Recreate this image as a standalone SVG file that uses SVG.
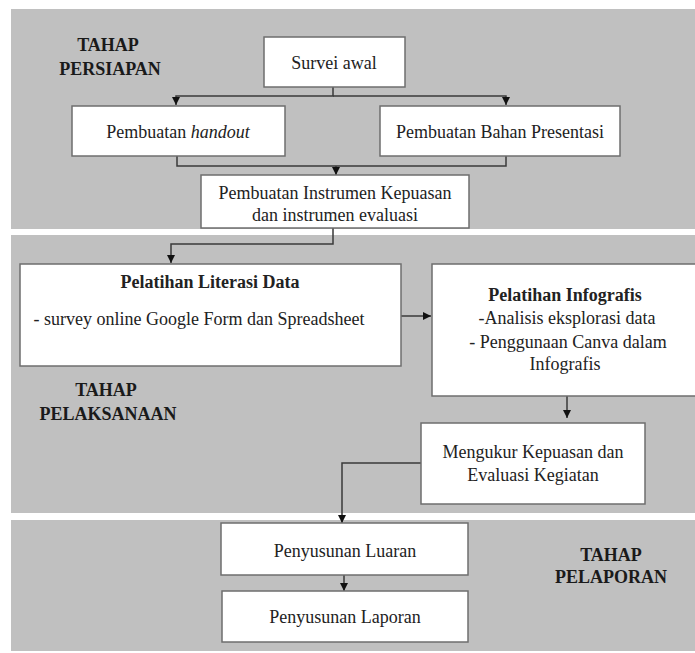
<svg xmlns="http://www.w3.org/2000/svg" width="695" height="653" viewBox="0 0 695 653">
<defs>
<style>
.band{fill:#c0c0c0;}
.box{fill:#ffffff;stroke:#6e6e6e;stroke-width:1.5;}
.t{font-family:"Liberation Serif","Times New Roman",serif;font-size:18px;fill:#222;text-anchor:middle;}
.b{font-weight:bold;}
.lbl{font-family:"Liberation Serif","Times New Roman",serif;font-size:18px;font-weight:bold;fill:#1a1a1a;text-anchor:middle;}
.c{fill:none;stroke:#3a3a3a;stroke-width:1.5;}
.a{marker-end:url(#arr);}
</style>
<marker id="arr" markerUnits="userSpaceOnUse" markerWidth="9" markerHeight="9" refX="8" refY="4" orient="auto">
<path d="M0,0 L8,4 L0,8 z" fill="#111"/>
</marker>
</defs>
<rect width="695" height="653" fill="#ffffff"/>
<g id="bands">
<rect class="band" x="11" y="9" width="684" height="220"/>
<rect class="band" x="11" y="235" width="684" height="278"/>
<rect class="band" x="11" y="520" width="684" height="131"/>
</g>
<g id="stage-labels">
<text class="lbl" x="108" y="51">TAHAP</text>
<text class="lbl" x="110" y="75">PERSIAPAN</text>
<text class="lbl" x="106" y="396">TAHAP</text>
<text class="lbl" x="108" y="420">PELAKSANAAN</text>
<text class="lbl" x="611" y="561">TAHAP</text>
<text class="lbl" x="611" y="583">PELAPORAN</text>
</g>
<g id="connectors">
<path class="c a" d="M333,87 V96 H176 V105"/>
<path class="c a" d="M333,96 H506 V105"/>
<path class="c" d="M177,156 V166 H506 V156"/>
<path class="c a" d="M336,166 V175"/>
<path class="c a" d="M333,228 V244 H171 V263"/>
<path class="c a" d="M401,316 H431"/>
<path class="c a" d="M567,396 V418"/>
<path class="c a" d="M421,463 H342 V523"/>
<path class="c a" d="M344,575 V591"/>
</g>
<g id="survei-awal">
<rect class="box" x="264" y="37" width="141" height="50"/>
<text class="t" x="334" y="69">Survei awal</text>
</g>
<g id="pembuatan-handout">
<rect class="box" x="72" y="106" width="213" height="50"/>
<text class="t" x="178" y="138">Pembuatan <tspan font-style="italic">handout</tspan></text>
</g>
<g id="pembuatan-bahan">
<rect class="box" x="380" y="106" width="240" height="50"/>
<text class="t" x="500" y="138">Pembuatan Bahan Presentasi</text>
</g>
<g id="pembuatan-instrumen">
<rect class="box" x="201" y="175" width="268" height="53"/>
<text class="t" x="335" y="199">Pembuatan Instrumen Kepuasan</text>
<text class="t" x="335" y="221">dan instrumen evaluasi</text>
</g>
<g id="pelatihan-literasi">
<rect class="box" x="20" y="264" width="381" height="102"/>
<text class="t b" x="210" y="288">Pelatihan Literasi Data</text>
<text class="t" x="199" y="325">- survey online Google Form dan Spreadsheet</text>
</g>
<g id="pelatihan-infografis">
<rect class="box" x="432" y="264" width="275" height="132"/>
<text class="t b" x="565" y="301">Pelatihan Infografis</text>
<text class="t" x="567" y="324">-Analisis eksplorasi data</text>
<text class="t" x="568" y="348">- Penggunaan Canva dalam</text>
<text class="t" x="565" y="370">Infografis</text>
</g>
<g id="mengukur">
<rect class="box" x="421" y="423" width="224" height="81"/>
<text class="t" x="533" y="458">Mengukur Kepuasan dan</text>
<text class="t" x="533" y="481">Evaluasi Kegiatan</text>
</g>
<g id="penyusunan-luaran">
<rect class="box" x="221" y="523" width="247" height="52"/>
<text class="t" x="345" y="557">Penyusunan Luaran</text>
</g>
<g id="penyusunan-laporan">
<rect class="box" x="222" y="591" width="246" height="51"/>
<text class="t" x="345" y="623">Penyusunan Laporan</text>
</g>
</svg>
